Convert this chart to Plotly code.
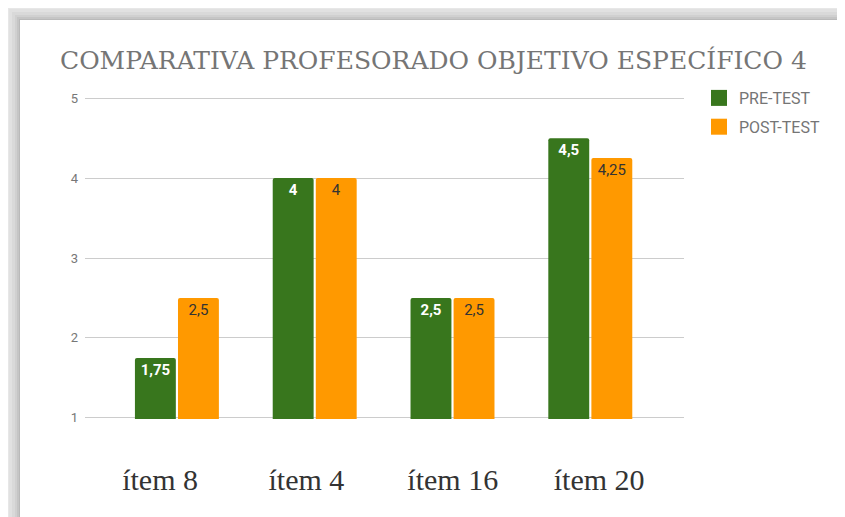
import plotly.graph_objects as go

categories = ["ítem 8", "ítem 4", "ítem 16", "ítem 20"]
pre_test = [1.75, 4, 2.5, 4.5]
post_test = [2.5, 4, 2.5, 4.25]
y_ticks = [1, 2, 3, 4, 5]
title_text = "COMPARATIVA PROFESORADO OBJETIVO ESPECÍFICO 4"

OFF = 8  # browser body margin
W, H = 845 - OFF, 517 - OFF
L, R, T, B = 85 - OFF, 684 - OFF, 97 - OFF, 419 - OFF


def px_x(x):
    return (x - OFF - L) / (R - L)


def px_y(y):
    return (B - (y - OFF)) / (B - T)


def fmt(v):
    return ("%g" % v).replace(".", ",")


fig = go.Figure()
fig.add_trace(go.Bar(
    name="PRE-TEST", x=categories, y=pre_test,
    marker=dict(color="#38761d", line=dict(width=0)),
    text=[fmt(v) for v in pre_test], textposition="inside",
    insidetextanchor="end", textangle=0,
    insidetextfont=dict(family="Roboto", size=15, color="#ffffff", weight="bold"),
    showlegend=False, hoverinfo="skip",
))
fig.add_trace(go.Bar(
    name="POST-TEST", x=categories, y=post_test,
    marker=dict(color="#ff9900", line=dict(width=0)),
    text=[fmt(v) for v in post_test], textposition="inside",
    insidetextanchor="end", textangle=0,
    insidetextfont=dict(family="Roboto", size=15, color="#333333"),
    showlegend=False, hoverinfo="skip",
))
# category labels on a secondary axis (labels are spread slightly wider than the bars)
fig.add_trace(go.Scatter(
    x=categories, y=[None] * len(categories), xaxis="x2", mode="markers",
    showlegend=False, hoverinfo="skip",
))
# legend entries
for name, col, grp in [("PRE-TEST", "#38761d", "a"), ("POST-TEST", "#ff9900", "b")]:
    fig.add_trace(go.Scatter(
        name=name, x=[None], y=[None], mode="markers",
        marker=dict(symbol="square", size=16, color=col),
        legendgroup=grp, hoverinfo="skip",
    ))

shapes = []
for off, op in [(14, 0.02), (11, 0.025), (8, 0.03), (5, 0.04), (3, 0.05), (1, 0.06)]:
    shapes.append(dict(type="rect", xref="paper", yref="paper", layer="below",
                       x0=px_x(20 - off), x1=px_x(870), y0=px_y(540), y1=px_y(20 - off),
                       fillcolor="rgba(0,0,0,%g)" % op, line=dict(width=0)))
shapes.append(dict(type="rect", xref="paper", yref="paper", layer="below",
                   x0=px_x(20), x1=px_x(870), y0=px_y(540), y1=px_y(20),
                   fillcolor="#ffffff", line=dict(width=0)))

fig.update_layout(
    width=W, height=H,
    margin=dict(l=L, r=W - R, t=T, b=H - B, pad=0),
    paper_bgcolor="#ececec",
    plot_bgcolor="rgba(0,0,0,0)",
    barmode="group", bargap=0.375, bargroupgap=0.05,
    barcornerradius=2,
    title=dict(text=title_text, x=(60 - OFF) / W, xanchor="left", xref="container",
               y=1 - (60 - OFF) / H, yanchor="middle", yref="container",
               font=dict(family="DejaVu Serif", size=25, color="#757575")),
    legend=dict(x=px_x(699), y=px_y(81), xanchor="left", yanchor="top",
                font=dict(family="Roboto", size=16, color="#757575"),
                traceorder="grouped", tracegroupgap=5,
                bgcolor="rgba(0,0,0,0)", itemwidth=30),
    shapes=shapes,
    showlegend=True,
    xaxis=dict(range=[-0.667, 3.68], showgrid=False, showline=False, ticks="",
               zeroline=False, showticklabels=False),
    xaxis2=dict(overlaying="x", side="bottom", anchor="y", type="category",
                range=[-0.513, 3.58], showgrid=False, showline=False, ticks="",
                zeroline=False,
                tickfont=dict(family="Liberation Serif", size=30, color="#333333"),
                ticklabelstandoff=40),
    yaxis=dict(range=[0.985, 5.015], tickvals=y_ticks, showgrid=True, gridcolor="#cccccc",
               gridwidth=1, zeroline=False, showline=False, ticks="",
               tickfont=dict(family="Roboto", size=13, color="#777777"),
               ticklabelstandoff=6),
)

fig.write_html("out.html")
